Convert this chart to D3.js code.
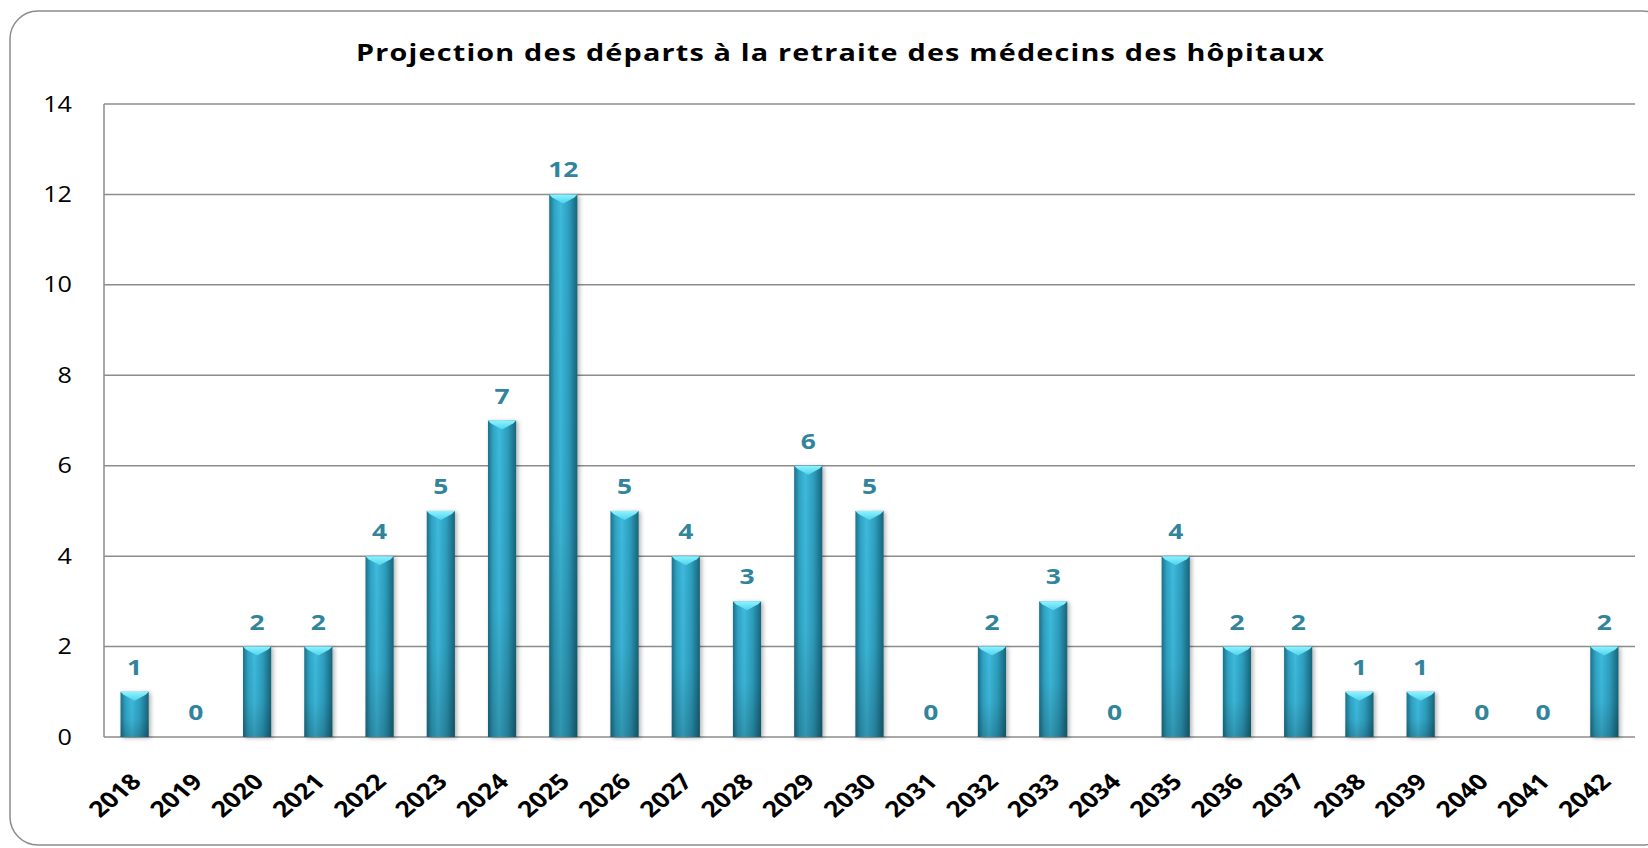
<!DOCTYPE html>
<html>
<head>
<meta charset="utf-8">
<script src="https://cdn.jsdelivr.net/npm/d3@7"></script>
<style>
  body { margin: 0; background: #fff; }
  svg { display: block; }
</style>
</head>
<body>
<div id="chart"></div>
<script>
var years = ["2018","2019","2020","2021","2022","2023","2024","2025","2026","2027","2028","2029","2030",
             "2031","2032","2033","2034","2035","2036","2037","2038","2039","2040","2041","2042"];
var departs = [1,0,2,2,4,5,7,12,5,4,3,6,5,0,2,3,0,4,2,2,1,1,0,0,2];
var yTicks = [0,2,4,6,8,10,12,14];
var title = "Projection des départs à la retraite des médecins des hôpitaux";

var width = 1648, height = 848;
var margin = {top: 104, right: 13, bottom: 111, left: 104};
var font = "'Open Sans', 'Noto Sans', sans-serif";
var stretch = 1.2; // the original picture's text is drawn wider than tall

var svg = d3.select("#chart").append("svg")
    .attr("width", width)
    .attr("height", height);

var defs = svg.append("defs");

// horizontal shading of the bars
var grad = defs.append("linearGradient").attr("id", "barGrad")
    .attr("x1", "0%").attr("x2", "100%").attr("y1", "0%").attr("y2", "0%");
grad.append("stop").attr("offset", "0%").attr("stop-color", "#1d7088");
grad.append("stop").attr("offset", "18%").attr("stop-color", "#2fa3c4");
grad.append("stop").attr("offset", "40%").attr("stop-color", "#3dbadc");
grad.append("stop").attr("offset", "70%").attr("stop-color", "#2d9dbd");
grad.append("stop").attr("offset", "100%").attr("stop-color", "#186479");

// darker towards the bottom
var shade = defs.append("linearGradient").attr("id", "barShade")
    .attr("x1", "0%").attr("x2", "0%").attr("y1", "0%").attr("y2", "100%");
shade.append("stop").attr("offset", "0%").attr("stop-color", "#000").attr("stop-opacity", 0);
shade.append("stop").attr("offset", "60%").attr("stop-color", "#000").attr("stop-opacity", 0.04);
shade.append("stop").attr("offset", "100%").attr("stop-color", "#000").attr("stop-opacity", 0.2);

var capGrad = defs.append("linearGradient").attr("id", "capGrad")
    .attr("x1", "0%").attr("x2", "0%").attr("y1", "0%").attr("y2", "100%");
capGrad.append("stop").attr("offset", "0%").attr("stop-color", "#8ff3ff");
capGrad.append("stop").attr("offset", "100%").attr("stop-color", "#4fd2ec");

var shadow = defs.append("filter").attr("id", "shadow")
    .attr("x", "-30%").attr("y", "-10%").attr("width", "170%").attr("height", "130%");
shadow.append("feDropShadow").attr("dx", 2).attr("dy", 1).attr("stdDeviation", 2)
    .attr("flood-color", "#000").attr("flood-opacity", 0.3);

// outer frame
svg.append("rect")
    .attr("x", 10).attr("y", 11)
    .attr("width", 1660).attr("height", 834)
    .attr("rx", 28).attr("ry", 28)
    .attr("fill", "none")
    .attr("stroke", "#8c8c8c")
    .attr("stroke-width", 1.5);

var x = d3.scaleBand()
    .domain(years)
    .range([margin.left, width - margin.right])
    .paddingInner(0.54)
    .paddingOuter(0.27);

var y = d3.scaleLinear()
    .domain([0, 14])
    .range([height - margin.bottom, margin.top]);

// grid
svg.append("g")
    .selectAll("line")
    .data(yTicks)
    .join("line")
    .attr("x1", margin.left)
    .attr("x2", width - margin.right)
    .attr("y1", d => y(d))
    .attr("y2", d => y(d))
    .attr("stroke", "#8c8c8c")
    .attr("stroke-width", 1.5);

svg.append("line")
    .attr("x1", margin.left).attr("x2", margin.left)
    .attr("y1", y(14)).attr("y2", y(0))
    .attr("stroke", "#8c8c8c")
    .attr("stroke-width", 1.5);

// y tick labels
svg.append("g")
    .selectAll("text")
    .data(yTicks)
    .join("text")
    .attr("transform", d => "translate(72," + y(d) + ") scale(" + stretch + ",1)")
    .attr("dy", "0.36em")
    .attr("text-anchor", "end")
    .style("font", "21px " + font)
    .attr("fill", "#000")
    .text(d => d);

// bars
var bars = svg.append("g")
    .selectAll("g")
    .data(years.map((yr, i) => ({year: yr, value: departs[i]})).filter(d => d.value > 0))
    .join("g");

bars.append("rect")
    .attr("x", d => x(d.year))
    .attr("y", d => y(d.value))
    .attr("width", x.bandwidth())
    .attr("height", d => y(0) - y(d.value))
    .attr("fill", "url(#barGrad)")
    .attr("filter", "url(#shadow)");

bars.append("rect")
    .attr("x", d => x(d.year))
    .attr("y", d => y(d.value))
    .attr("width", x.bandwidth())
    .attr("height", d => y(0) - y(d.value))
    .attr("fill", "url(#barShade)");

// top cap (chevron)
bars.append("path")
    .attr("d", d => {
      var x0 = x(d.year), w = x.bandwidth(), t = y(d.value);
      return "M" + x0 + "," + t + "L" + (x0 + w) + "," + t +
             "L" + (x0 + w - 3) + "," + (t + 3) +
             "L" + (x0 + w / 2) + "," + (t + 9) +
             "L" + (x0 + 3) + "," + (t + 3) + "Z";
    })
    .attr("fill", "url(#capGrad)");

// value labels
svg.append("g")
    .selectAll("text")
    .data(years.map((yr, i) => ({year: yr, value: departs[i]})))
    .join("text")
    .attr("transform", d => "translate(" + (x(d.year) + x.bandwidth() / 2) + "," + (y(d.value) - 17) + ") scale(" + stretch + ",1)")
    .attr("text-anchor", "middle")
    .style("font", "bold 22px " + font)
    .attr("fill", "#31849b")
    .text(d => d.value);

// x tick labels
svg.append("g")
    .selectAll("text")
    .data(years)
    .join("text")
    .attr("transform", d => "translate(" + (x(d) + x.bandwidth() / 2 + 8) + "," + (y(0) + 46) + ") scale(" + stretch + ",1) rotate(-45)")
    .attr("text-anchor", "end")
    .style("font", "bold 22px " + font)
    .attr("fill", "#000")
    .text(d => d);

// title
svg.append("text")
    .attr("transform", "translate(840,61) scale(" + stretch + ",1)")
    .attr("text-anchor", "middle")
    .attr("textLength", 968 / stretch)
    .attr("lengthAdjust", "spacing")
    .style("font", "bold 24px " + font)
    .attr("fill", "#000")
    .text(title);
</script>
</body>
</html>
